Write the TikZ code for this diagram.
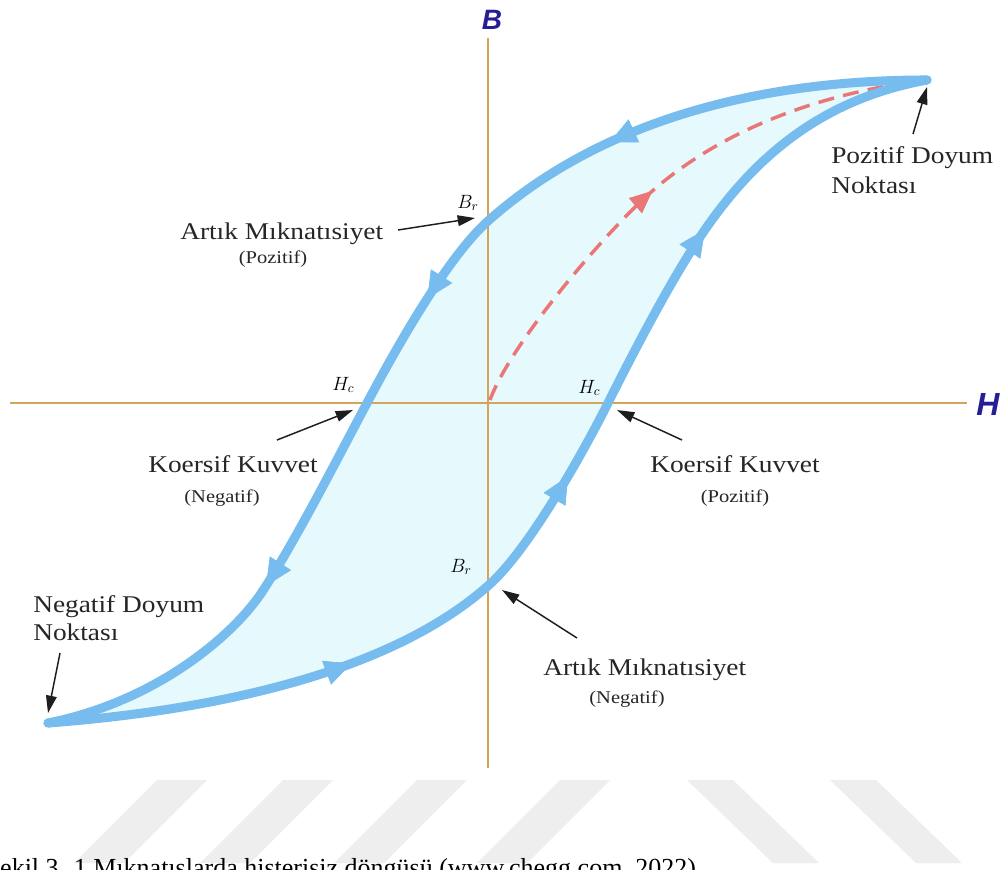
\documentclass[tikz,border=0pt]{standalone}
\usepackage{fontspec}
\setmainfont{Liberation Serif}
\newfontfamily\labfont[FakeStretch=1.14]{Liberation Serif}
\newfontfamily\axfont{Liberation Sans}
\usetikzlibrary{arrows.meta,decorations.markings}
\definecolor{loopblue}{RGB}{118,188,238}
\definecolor{loopfill}{RGB}{230,249,252}
\definecolor{axisorange}{RGB}{214,164,88}
\definecolor{dashred}{RGB}{234,118,118}
\definecolor{axlabel}{RGB}{38,30,150}
\definecolor{wmgray}{RGB}{238,238,238}
\definecolor{pointer}{RGB}{30,30,30}
\begin{document}
\begin{tikzpicture}[x=0.75pt,y=-0.75pt,
  axisline/.style={draw=axisorange,line width=2.2pt},
  branch/.style={draw=loopblue,line width=6.8pt,line cap=round,line join=round},
  biglab/.style={inner sep=0pt,anchor=base west,font=\labfont\fontsize{18}{21}\selectfont,text=black!85},
  smalllab/.style={inner sep=0pt,anchor=base,font=\labfont\fontsize{13.5}{16}\selectfont,text=black!85},
  mathlab/.style={inner sep=0pt,anchor=base west,font=\fontsize{14}{16}\selectfont},
  axlab/.style={inner sep=0pt,anchor=center,text=axlabel},
  ptr/.style={draw=pointer,line width=1.1pt,-{Triangle[length=13pt,width=8pt]}},
  bluetip/.tip={Triangle[length=20pt,width=19pt]},
  stripe/.style={fill=wmgray,draw=none}]
\useasboundingbox (0,0) rectangle (1005,869);
\fill[white] (0,0) rectangle (1005,869);

% watermark stripes
\foreach \a in {157,283,417,560}{
  \fill[stripe] (\a,780) -- (\a+50,780) -- (\a-33,863) -- (\a-83,863) -- cycle;}
\foreach \b in {687,830}{
  \fill[stripe] (\b,780) -- (\b+46,780) -- (\b+132,863) -- (\b+86,863) -- cycle;}

% key points of the loop
\coordinate (psat) at (927,80);
\coordinate (nsat) at (48,723);

% loop fill
\fill[loopfill] (psat) .. controls (740,80) and (590,130) .. (488,221)
  .. controls (443,261) and (385.8,367.8) .. (367,403)
  .. controls (338.8,455.8) and (295,542) .. (262,592)
  .. controls (234.5,633.8) and (158,701) .. (nsat)
  .. controls (198,711.5) and (386,677.8) .. (490,584)
  .. controls (530.7,547.2) and (585.6,447.7) .. (608,403)
  .. controls (632.6,353.8) and (669.5,282.8) .. (700,237)
  .. controls (750,162.1) and (817,100) .. (psat) -- cycle;

% axes
\coordinate (hS) at (10,403);
\coordinate (hE) at (967,403);
\coordinate (vS) at (488,38);
\coordinate (vE) at (488,768);
\draw[axisline] (hS) -- (hE);
\draw[axisline] (vS) -- (vE);
\node[axlab,font=\axfont\bfseries\itshape\fontsize{21}{24}\selectfont] (Blab) at (492,20) {B};
\node[axlab,font=\axfont\bfseries\itshape\fontsize{24}{28}\selectfont] (Hlab) at (988,404) {H};

% initial magnetisation (dashed)
\coordinate (orig) at (490,400);
\draw[draw=dashred,line width=2.6pt,dash pattern=on 12pt off 7pt,
  postaction={decorate},
  decoration={markings,mark=at position 0.47 with {\arrow[line width=0.5pt]{Triangle[length=17pt,width=15pt]}}}]
  (orig) .. controls (510.4,343.6) and (605.1,232.8) .. (650,193)
  .. controls (724.8,126.6) and (827,92) .. (psat);

% descending branch
\draw[branch,postaction={decorate},
  decoration={markings,
    mark=at position 0.28 with {\arrow[line width=0.5pt,loopblue]{bluetip}},
    mark=at position 0.49 with {\arrow[line width=0.5pt,loopblue]{bluetip}},
    mark=at position 0.773 with {\arrow[line width=0.5pt,loopblue]{bluetip}}}]
  (psat) .. controls (740,80) and (590,130) .. (488,221)
  .. controls (443,261) and (385.8,367.8) .. (367,403)
  .. controls (338.8,455.8) and (295,542) .. (262,592)
  .. controls (234.5,633.8) and (158,701) .. (nsat);
% ascending branch
\draw[branch,postaction={decorate},
  decoration={markings,
    mark=at position 0.267 with {\arrow[line width=0.5pt,loopblue]{bluetip}},
    mark=at position 0.52 with {\arrow[line width=0.5pt,loopblue]{bluetip}},
    mark=at position 0.763 with {\arrow[line width=0.5pt,loopblue]{bluetip}}}]
  (nsat) .. controls (198,711.5) and (386,677.8) .. (490,584)
  .. controls (530.7,547.2) and (585.6,447.7) .. (608,403)
  .. controls (632.6,353.8) and (669.5,282.8) .. (700,237)
  .. controls (750,162.1) and (817,100) .. (psat);

% point labels
\node[mathlab] (Brp) at (457,208) {$B_r$};
\node[mathlab] (Hcn) at (332,390) {$H_c$};
\node[mathlab] (Hcp) at (578,393) {$H_c$};
\node[mathlab] (Brn) at (450,572) {$B_r$};

% text labels
\node[biglab] (pd1) at (831,163) {Pozitif Doyum};
\node[biglab] (pd2) at (831,193) {Noktası};
\node[biglab] (nd1) at (33,612) {Negatif Doyum};
\node[biglab] (nd2) at (33,640) {Noktası};
\node[biglab] (amp) at (180,239) {Artık Mıknatısiyet};
\node[smalllab] (ampS) at (273,263) {(Pozitif)};
\node[biglab,anchor=base east] (kkn) at (318,472) {Koersif Kuvvet};
\node[smalllab] (kknS) at (222,502) {(Negatif)};
\node[biglab] (kkp) at (650,472) {Koersif Kuvvet};
\node[smalllab] (kkpS) at (735,502) {(Pozitif)};
\node[biglab] (amn) at (543,675) {Artık Mıknatısiyet};
\node[smalllab] (amnS) at (627,703) {(Negatif)};

% pointer arrows
\coordinate (p1s) at (913,134); \coordinate (p1e) at (927,87);
\coordinate (p2s) at (60,653);  \coordinate (p2e) at (48,713);
\coordinate (p3s) at (398,230); \coordinate (p3e) at (475,218);
\coordinate (p4s) at (277,440); \coordinate (p4e) at (353,410);
\coordinate (p5s) at (682,440); \coordinate (p5e) at (617,410);
\coordinate (p6s) at (577,638); \coordinate (p6e) at (502,590);
\draw[ptr] (p1s) -- (p1e);
\draw[ptr] (p2s) -- (p2e);
\draw[ptr] (p3s) -- (p3e);
\draw[ptr] (p4s) -- (p4e);
\draw[ptr] (p5s) -- (p5e);
\draw[ptr] (p6s) -- (p6e);

% caption (cut at the bottom edge, as in the reference)
\node[inner sep=0pt,anchor=base west,font=\fontsize{19.5}{22}\selectfont] (cap) at (-14.5,876) {Şekil 3. 1 Mıknatıslarda histerisiz döngüsü (www.chegg.com, 2022)};
\end{tikzpicture}
\end{document}
